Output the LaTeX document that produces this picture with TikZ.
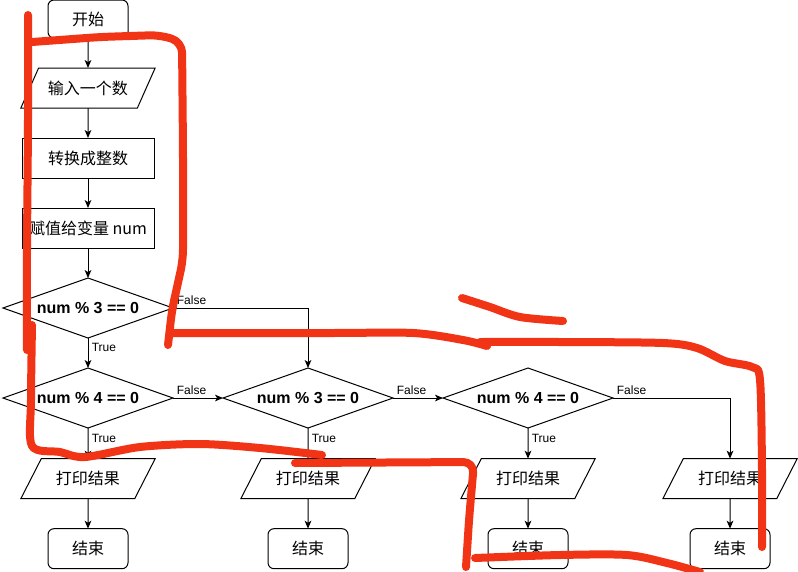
\documentclass[tikz,border=0pt]{standalone}
\usepackage{fontspec}
\setmainfont{Liberation Sans}
\newfontfamily\cjk{Noto Sans CJK SC}
\usetikzlibrary{shapes.geometric, arrows.meta, positioning}
\definecolor{cPen}{RGB}{242,52,22}
\tikzset{
	terminal/.style={rectangle, rounded corners=4.5pt, minimum width=60pt, minimum height=30pt, outer sep=0pt, align=center, draw=black, fill=white, font=\cjk\fontsize{12}{14}\selectfont},
	process/.style ={rectangle, minimum width=99pt, minimum height=30pt, outer sep=0pt, align=center, draw=black, fill=white, font=\cjk\fontsize{12}{14}\selectfont},
	io/.style      ={trapezium, trapezium left angle=56, trapezium right angle=124, trapezium stretches=true, minimum width=101pt, minimum height=30pt, outer sep=0pt, align=center, draw=black, fill=white, font=\cjk\fontsize{12}{14}\selectfont},
	decision/.style={diamond, aspect=2.8, minimum width=127.5pt, minimum height=45pt, inner sep=1pt, outer sep=0pt, align=center, draw=black, fill=white, font=\bfseries\fontsize{12}{14}\selectfont},
	arr/.style     ={-{Stealth[length=6pt, width=5pt, inset=1.6pt]}, line width=0.75pt},
	lbl/.style     ={font=\fontsize{9}{10}\selectfont, inner sep=2.5pt},
	% hand-drawn pen marks
	pen/.style     ={draw=cPen, line width=6pt, line cap=round, line join=round},
}
\begin{document}
\begin{tikzpicture}[x=0.75pt, y=-0.75pt, line width=0.75pt]
	\useasboundingbox (0,0) rectangle (798,571);
	% main column
	\node[terminal, minimum height=28.5pt] (start) at (88,19) {开始};
	\node[io, below=22.5pt of start] (input) {输入一个数};
	\node[process, below=22.5pt of input] (conv) {转换成整数};
	\node[process, below=22.5pt of conv] (assign) {{\cjk 赋值给变量} num};
	\node[decision, below=22.5pt of assign] (d1) {num \% 3 == 0};
	\node[decision, below=22.5pt of d1] (d2) {num \% 4 == 0};
	\node[decision, right=37.5pt of d2] (d3) {num \% 3 == 0};
	\node[decision, right=37.5pt of d3] (d4) {num \% 4 == 0};
	% outputs and ends
	\coordinate (col4) at (730,0);
	\node[io, below=23pt of d2] (p1) {打印结果};
	\node[io, below=23pt of d3] (p2) {打印结果};
	\node[io, below=23pt of d4] (p3) {打印结果};
	\node[io] (p4) at (p3 -| col4) {打印结果};
	\node[terminal, below=22.5pt of p1] (e1) {结束};
	\node[terminal, below=22.5pt of p2] (e2) {结束};
	\node[terminal, below=22.5pt of p3] (e3) {结束};
	\node[terminal, below=22.5pt of p4] (e4) {结束};
	% connectors
	\draw[arr] (start) -- (input);
	\draw[arr] (input) -- (conv);
	\draw[arr] (conv) -- (assign);
	\draw[arr] (assign) -- (d1);
	\draw[arr] (d1) -- node[lbl, pos=0.33, right] {True} (d2);
	\draw[arr] (d1.east) -| node[lbl, pos=0, above right] {False} (d3.north);
	\draw[arr] (d2) -- node[lbl, pos=0, above right] {False} (d3);
	\draw[arr] (d3) -- node[lbl, pos=0, above right] {False} (d4);
	\draw[arr] (d4.east) -| node[lbl, pos=0, above right] {False} (p4.north);
	\draw[arr] (d2) -- node[lbl, pos=0.33, right] {True} (p1);
	\draw[arr] (d3) -- node[lbl, pos=0.33, right] {True} (p2);
	\draw[arr] (d4) -- node[lbl, pos=0.33, right] {True} (p3);
	\draw[arr] (p1) -- (e1);
	\draw[arr] (p2) -- (e2);
	\draw[arr] (p3) -- (e3);
	\draw[arr] (p4) -- (e4);
	% red pen strokes
	\draw[pen] plot[smooth, tension=0.5] coordinates {(28,15) (28,120) (27,250) (27,350)};
	\draw[pen] plot[smooth, tension=0.5] coordinates {(32,325) (31,400) (32,446) (60,452) (85,457) (140,447) (200,444) (260,448) (322,455)};
	\draw[pen, rounded corners=8pt] (295,463) -- (474,462) -- (469,520) -- (466,567);
	\draw[pen, rounded corners=8pt] (32,42) -- (100,37) -- (160,35) -- (182,42) -- (183,150) -- (183,260) -- (172,310) -- (168,345);
	\draw[pen] plot[smooth, tension=0.5] coordinates {(170,333) (330,333) (413,333) (463,340) (487,346)};
	\draw[pen] plot[smooth, tension=0.5] coordinates {(480,342) (560,342) (663,343) (697,348) (725,361) (752,367) (760,380) (762,470) (762,547)};
	\draw[pen] plot[smooth, tension=0.5] coordinates {(462,298) (490,307) (520,317) (563,321)};
	\draw[pen] plot[smooth, tension=0.5] coordinates {(475,558) (560,555) (627,555) (667,563) (700,572)};
\end{tikzpicture}
\end{document}
